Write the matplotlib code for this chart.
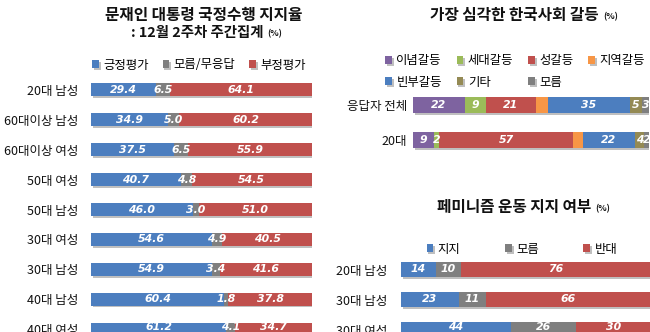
import matplotlib
matplotlib.use('Agg')
import matplotlib.pyplot as plt
import numpy as np
from matplotlib import patheffects as pe

plt.rcParams['font.family'] = ['Noto Sans CJK KR', 'DejaVu Sans']

# ---------------- data ----------------
approval_groups = ['20대 남성', '60대이상 남성', '60대이상 여성', '50대 여성', '50대 남성',
                   '30대 여성', '30대 남성', '40대 남성', '40대 여성']
approval_positive = [29.4, 34.9, 37.5, 40.7, 46.0, 54.6, 54.9, 60.4, 61.2]
approval_unknown = [6.5, 5.0, 6.5, 4.8, 3.0, 4.9, 3.4, 1.8, 4.1]
approval_negative = [64.1, 60.2, 55.9, 54.5, 51.0, 40.5, 41.6, 37.8, 34.7]
approval_names = ['긍정평가', '모름/무응답', '부정평가']

conflict_groups = ['응답자 전체', '20대']
conflict_names = ['이념갈등', '세대갈등', '성갈등', '지역갈등', '빈부갈등', '기타', '모름']
conflict_ideology = [22, 9]
conflict_generation = [9, 2]
conflict_gender = [21, 57]
conflict_region = [5, 4]
conflict_wealth = [35, 22]
conflict_other = [5, 4]
conflict_unknown = [3, 2]

feminism_groups = ['20대 남성', '30대 남성', '30대 여성']
feminism_support = [14, 23, 44]
feminism_unknown = [10, 11, 26]
feminism_oppose = [76, 66, 30]
feminism_names = ['지지', '모름', '반대']

# ---------------- style ----------------
BLUE = '#4C7EBF'
GRAY = '#7F7F7F'
RED = '#C0504D'
PURPLE = '#7E63A0'
GREEN = '#9BBB59'
ORANGE = '#F79646'
OLIVE = '#948A54'
TXT = '#111111'

W, H = 650, 332
fig = plt.figure(figsize=(6.5, 3.32), dpi=100)


def px_axes(x0, x1, y0, y1):
    return fig.add_axes([x0 / W, 1 - y1 / H, (x1 - x0) / W, (y1 - y0) / H])


def fy(y):
    return 1 - y / H


shadow = [pe.SimplePatchShadow(offset=(1.2, -1.2), alpha=0.25, shadow_rgbFace='k'), pe.Normal()]


def stacked(ax, groups, series, colors, names, show, fmt, fs, height, pad):
    y = np.arange(len(groups))
    left = np.zeros(len(groups))
    handles = []
    for vals, c, name, s in zip(series, colors, names, show):
        vals = np.asarray(vals, dtype=float)
        bars = ax.barh(y, vals, left=left, height=height, color=c, label=name,
                       linewidth=0)
        for b in bars:
            b.set_path_effects(shadow)
        if s:
            ax.bar_label(bars, labels=[fmt.format(v) for v in vals], label_type='center',
                         color='white', fontsize=fs, fontweight='bold',
                         fontstyle='italic', family='DejaVu Sans')
        handles.append(bars)
        left += vals
    ax.set_xlim(0, 100)
    ax.set_yticks(y)
    ax.set_yticklabels(groups, fontsize=9, color=TXT)
    ax.tick_params(axis='y', length=0, pad=pad)
    ax.set_xticks([])
    for sp in ax.spines.values():
        sp.set_visible(False)
    ax.patch.set_alpha(0)
    return handles


def pct(ax, t):
    ax.annotate('(%)', xy=(1, 0.12), xycoords=t, xytext=(3, 0), textcoords='offset points',
                fontsize=6.3, fontweight='bold', ha='left', va='bottom', color=TXT,
                annotation_clip=False)


leg_kw = dict(loc='center', bbox_transform=fig.transFigure, frameon=False, fontsize=8.9,
              handlelength=0.55, handleheight=0.55, handletextpad=0.35,
              borderpad=0, borderaxespad=0)

# ---------------- left panel ----------------
axL = px_axes(91, 312, 75, 332)
rowL = 29.9
axL_h = stacked(axL, approval_groups,
                [approval_positive, approval_unknown, approval_negative],
                [BLUE, GRAY, RED], approval_names, [True, True, True],
                '{:.1f}', 7.8, 13 / rowL, 9.5)
axL.set_ylim((332 - 90) / rowL, (75 - 90) / rowL)

fig.text(204 / W, fy(15), '문재인 대통령 국정수행 지지율', fontsize=11.3,
         fontweight='bold', ha='center', va='center', color=TXT)
t2 = fig.text(131 / W, fy(33), ': 12월 2주차 주간집계', fontsize=10.4,
              fontweight='bold', ha='left', va='center', color=TXT)
pct(axL, t2)

fig.legend(axL_h, approval_names, ncol=3, bbox_to_anchor=(199 / W, fy(65)),
           columnspacing=1.1, **leg_kw)

# ---------------- right top panel ----------------
axR1 = px_axes(413, 649, 90, 160)
rowR1 = 35
R1_series = [conflict_ideology, conflict_generation, conflict_gender, conflict_region,
             conflict_wealth, conflict_other, conflict_unknown]
R1_colors = [PURPLE, GREEN, RED, ORANGE, BLUE, OLIVE, GRAY]
R1_h = stacked(axR1, conflict_groups, R1_series, R1_colors, conflict_names,
               [True, True, True, False, True, True, True], '{:.0f}', 7.8,
               16 / rowR1, 4.5)
axR1.set_ylim((160 - 105) / rowR1, (90 - 105) / rowR1)

tR1 = fig.text(430 / W, fy(15), '가장 심각한 한국사회 갈등', fontsize=11.3,
               fontweight='bold', ha='left', va='center', color=TXT)
pct(axR1, tR1)

order = [0, 4, 1, 5, 2, 6, 3]
fig.legend([R1_h[i] for i in order], [conflict_names[i] for i in order], ncol=4,
           bbox_to_anchor=(515 / W, fy(71.5)), columnspacing=1.2, labelspacing=0.65,
           **leg_kw)

# ---------------- right bottom panel ----------------
axR2 = px_axes(401, 651, 255, 332)
rowR2 = 30
R2_h = stacked(axR2, feminism_groups, [feminism_support, feminism_unknown, feminism_oppose],
               [BLUE, GRAY, RED], feminism_names, [True, True, True], '{:.0f}', 7.8,
               15 / rowR2, 10)
axR2.set_ylim((332 - 269.5) / rowR2, (255 - 269.5) / rowR2)

tR2 = fig.text(437 / W, fy(207), '페미니즘 운동 지지 여부', fontsize=11.3,
               fontweight='bold', ha='left', va='center', color=TXT)
pct(axR2, tR2)

fig.legend(R2_h, feminism_names, ncol=3, bbox_to_anchor=(522 / W, fy(249)),
           columnspacing=3.6, **leg_kw)

fig.savefig('out.png', dpi=100)
